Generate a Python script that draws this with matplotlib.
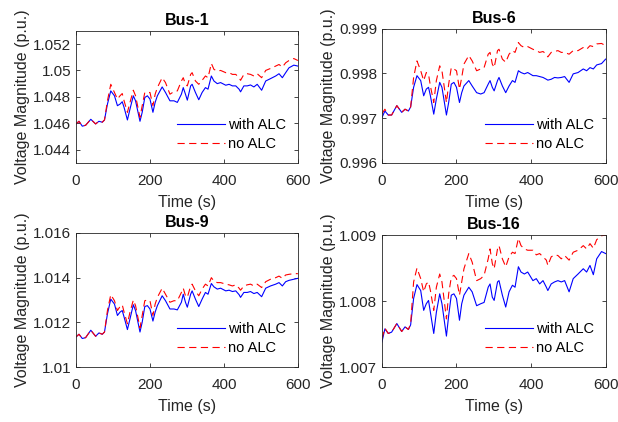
import matplotlib
matplotlib.use('Agg')
import matplotlib.pyplot as plt

plt.rcParams['font.family'] = ['Liberation Sans', 'DejaVu Sans']

# time samples (s), shared by all buses
t = [0, 8, 17, 26, 40, 53, 62, 71, 77, 85,
     94, 104, 112, 119, 125, 130, 139, 146, 155, 161,
     173, 179, 186, 193, 200, 208, 214, 220, 233, 242,
     254, 265, 274, 285, 290, 296, 301, 310, 314, 323,
     332, 341, 350, 357, 366, 373, 382, 391, 405, 414,
     423, 432, 441, 445, 454, 463, 472, 481, 490, 502,
     513, 526, 540, 549, 558, 567, 576, 589, 600]

bus1_alc = [1.04595, 1.04615, 1.04578, 1.04585, 1.0463, 1.04595, 1.04615, 1.04608, 1.04625, 1.04745,
            1.04845, 1.04808, 1.04733, 1.04745, 1.04763, 1.0472, 1.04625, 1.04708, 1.04808, 1.0477,
            1.04615, 1.04683, 1.04795, 1.04808, 1.04783, 1.04683, 1.04758, 1.04808, 1.04875, 1.04833,
            1.0477, 1.0477, 1.04758, 1.0482, 1.0487, 1.0482, 1.04775, 1.04883, 1.04895, 1.04833,
            1.04778, 1.04833, 1.0487, 1.04858, 1.04958, 1.0492, 1.049, 1.04908, 1.04888, 1.04895,
            1.04883, 1.04883, 1.04858, 1.04838, 1.04883, 1.04883, 1.0489, 1.04875, 1.04895, 1.0485,
            1.0492, 1.04938, 1.04958, 1.04975, 1.04945, 1.04983, 1.0502, 1.0504, 1.05033]
bus1_no = [1.04595, 1.04615, 1.04578, 1.04585, 1.0463, 1.04595, 1.04615, 1.04608, 1.04625, 1.0477,
           1.04895, 1.04833, 1.04783, 1.04808, 1.04825, 1.0477, 1.04683, 1.04758, 1.0485, 1.04808,
           1.04645, 1.04733, 1.04833, 1.04833, 1.04833, 1.04733, 1.0482, 1.0487, 1.04945, 1.04908,
           1.0482, 1.0484, 1.04845, 1.0492, 1.04945, 1.04895, 1.04883, 1.0497, 1.04983, 1.0492,
           1.04895, 1.04925, 1.04958, 1.04945, 1.05053, 1.05008, 1.04995, 1.05, 1.04983, 1.04983,
           1.0497, 1.0497, 1.04945, 1.04925, 1.0497, 1.04975, 1.0497, 1.04958, 1.04975, 1.04945,
           1.05, 1.05015, 1.05033, 1.05045, 1.05025, 1.05058, 1.05075, 1.0509, 1.05075]

bus6_alc = [0.99701, 0.99716, 0.99707, 0.99707, 0.99728, 0.99713, 0.9972, 0.99716, 0.99725, 0.99769,
            0.99795, 0.99784, 0.9975, 0.99765, 0.99769, 0.9975, 0.99709, 0.99743, 0.9978, 0.99769,
            0.99707, 0.99735, 0.99776, 0.9978, 0.99769, 0.99735, 0.99757, 0.99772, 0.99784, 0.99772,
            0.99757, 0.99754, 0.99757, 0.99776, 0.99784, 0.99769, 0.99761, 0.99784, 0.99791, 0.99772,
            0.99757, 0.99772, 0.99784, 0.9978, 0.99806, 0.99802, 0.99799, 0.99802, 0.99795, 0.99795,
            0.99793, 0.99791, 0.99787, 0.99785, 0.99787, 0.99791, 0.9979, 0.99791, 0.99793, 0.9978,
            0.99799, 0.99802, 0.9981, 0.99806, 0.99813, 0.9981, 0.99819, 0.99822, 0.99832]
bus6_no = [0.9971, 0.9972, 0.99707, 0.99707, 0.99728, 0.99713, 0.9972, 0.99716, 0.99725, 0.99791,
           0.99828, 0.99806, 0.99784, 0.99802, 0.99798, 0.99772, 0.99735, 0.99784, 0.99817, 0.99806,
           0.99735, 0.99776, 0.99813, 0.9981, 0.99806, 0.99765, 0.99791, 0.99821, 0.9984, 0.99828,
           0.99806, 0.9981, 0.99813, 0.99843, 0.99847, 0.99821, 0.99813, 0.99851, 0.99854, 0.99832,
           0.99825, 0.99843, 0.99851, 0.99847, 0.99869, 0.99862, 0.99858, 0.9986, 0.99854, 0.99851,
           0.99847, 0.99849, 0.99843, 0.99837, 0.99847, 0.99849, 0.99851, 0.99847, 0.99847, 0.99843,
           0.99851, 0.99851, 0.99858, 0.99854, 0.99862, 0.9986, 0.99866, 0.99867, 0.99862]

bus9_alc = [1.01135, 1.01147, 1.01128, 1.01132, 1.01165, 1.01138, 1.01153, 1.01147, 1.01157, 1.01238,
            1.01304, 1.01282, 1.01231, 1.01246, 1.01253, 1.01224, 1.01168, 1.01216, 1.01279, 1.01253,
            1.01157, 1.01201, 1.01271, 1.01275, 1.0126, 1.01206, 1.01246, 1.01275, 1.01319, 1.01297,
            1.0126, 1.0126, 1.01256, 1.0129, 1.01326, 1.0129, 1.01268, 1.01326, 1.01341, 1.01304,
            1.01271, 1.01304, 1.01334, 1.01326, 1.01374, 1.01359, 1.01349, 1.01353, 1.01341, 1.01344,
            1.01338, 1.01341, 1.01324, 1.01312, 1.01334, 1.01334, 1.01338, 1.01329, 1.01334, 1.01315,
            1.01353, 1.01363, 1.01371, 1.01378, 1.01363, 1.01382, 1.01388, 1.01393, 1.01397]
bus9_no = [1.01135, 1.01147, 1.01128, 1.01132, 1.01165, 1.01138, 1.01153, 1.01147, 1.01157, 1.01253,
           1.01324, 1.01297, 1.01253, 1.01271, 1.01279, 1.01246, 1.01194, 1.01246, 1.0130, 1.01275,
           1.01176, 1.01231, 1.01297, 1.0130, 1.01297, 1.01231, 1.01282, 1.01312, 1.01353, 1.01326,
           1.0129, 1.01297, 1.01297, 1.01334, 1.01353, 1.01319, 1.01312, 1.01363, 1.01371, 1.01341,
           1.01319, 1.01349, 1.01371, 1.01363, 1.0140, 1.01385, 1.01378, 1.01378, 1.01371, 1.01368,
           1.01363, 1.01368, 1.01353, 1.01344, 1.01363, 1.01368, 1.01371, 1.01363, 1.01371, 1.01356,
           1.01382, 1.01393, 1.0140, 1.01407, 1.01397, 1.01412, 1.01415, 1.01418, 1.01418]

bus16_alc = [1.00738, 1.00758, 1.00751, 1.00753, 1.00766, 1.00754, 1.00761, 1.00757, 1.00764, 1.00804,
             1.00825, 1.00816, 1.00786, 1.00796, 1.00801, 1.00783, 1.00751, 1.00783, 1.00811, 1.00796,
             1.00747, 1.00778, 1.00809, 1.00811, 1.00804, 1.00771, 1.00796, 1.00809, 1.00821, 1.00814,
             1.00793, 1.00796, 1.00798, 1.00821, 1.00826, 1.00806, 1.00801, 1.00829, 1.00831, 1.00809,
             1.00791, 1.00814, 1.00824, 1.00821, 1.00852, 1.00844, 1.00841, 1.00844, 1.00831, 1.00834,
             1.00826, 1.00831, 1.00821, 1.00816, 1.00826, 1.00829, 1.00831, 1.00829, 1.00831, 1.00814,
             1.00834, 1.00841, 1.00849, 1.00844, 1.00854, 1.0084, 1.00864, 1.00875, 1.00872]
bus16_no = [1.00743, 1.00759, 1.00751, 1.00753, 1.00766, 1.00754, 1.00761, 1.00757, 1.00766, 1.00829,
            1.0085, 1.00834, 1.00814, 1.00826, 1.00829, 1.00816, 1.00786, 1.00821, 1.00841, 1.00829,
            1.00773, 1.00811, 1.00836, 1.00839, 1.00834, 1.00809, 1.00829, 1.00849, 1.00872, 1.00859,
            1.00831, 1.00834, 1.00839, 1.00864, 1.00879, 1.00857, 1.00849, 1.00879, 1.00884, 1.00864,
            1.00852, 1.00867, 1.00874, 1.00872, 1.00895, 1.00884, 1.00879, 1.00877, 1.00877, 1.0087,
            1.00872, 1.00867, 1.00862, 1.00854, 1.00867, 1.0087, 1.00869, 1.00864, 1.00869, 1.00862,
            1.00874, 1.00877, 1.00884, 1.00879, 1.00887, 1.0088, 1.00893, 1.00899, 1.009]

titles = ['Bus-1', 'Bus-6', 'Bus-9', 'Bus-16']
series = [(bus1_alc, bus1_no), (bus6_alc, bus6_no), (bus9_alc, bus9_no), (bus16_alc, bus16_no)]
ylims = [(1.043, 1.053), (0.996, 0.999), (1.010, 1.016), (1.007, 1.009)]
yticks = [[1.044, 1.046, 1.048, 1.05, 1.052],
          [0.996, 0.997, 0.998, 0.999],
          [1.01, 1.012, 1.014, 1.016],
          [1.007, 1.008, 1.009]]
ytick_labels = [['1.044', '1.046', '1.048', '1.05', '1.052'],
                ['0.996', '0.997', '0.998', '0.999'],
                ['1.01', '1.012', '1.014', '1.016'],
                ['1.007', '1.008', '1.009']]

fig = plt.figure(figsize=(6.18, 4.22), dpi=100)
# axes boxes in figure fractions: left, bottom, width, height
boxes = [[0.123, 0.614, 0.359, 0.313],
         [0.618, 0.614, 0.362, 0.318],
         [0.123, 0.130, 0.359, 0.318],
         [0.618, 0.130, 0.362, 0.313]]

edge = '#262626'
for i in range(4):
    ax = fig.add_axes(boxes[i])
    alc, no = series[i]
    ax.plot(t, alc, color='#0000ff', lw=0.8, label='with ALC')
    ax.plot(t, no, color='#ff0000', lw=0.8, ls=(0, (6.5, 4)), label='no ALC')
    ax.set_xlim(0, 600)
    ax.set_ylim(*ylims[i])
    ax.set_xticks([0, 200, 400, 600])
    ax.set_yticks(yticks[i])
    ax.set_yticklabels(ytick_labels[i])
    ax.tick_params(direction='in', top=True, right=True, labelsize=11,
                   colors=edge, labelcolor=edge, length=3, width=0.6)
    ax.tick_params(axis='x', pad=8)
    for s in ax.spines.values():
        s.set_color(edge)
        s.set_linewidth(0.6)
    ax.set_title(titles[i], fontsize=11.5, fontweight='bold', pad=4)
    ax.set_xlabel('Time (s)', fontsize=11.5, color=edge, labelpad=5)
    ax.set_ylabel('Voltage Magnitude (p.u.)', fontsize=11.5, color=edge, labelpad=2)
    ax.legend(loc='lower right', frameon=False, fontsize=10.5, handlelength=3.3,
              handletextpad=0.2, labelspacing=0.35, borderaxespad=0.4)

fig.savefig('out.png', dpi=100)
